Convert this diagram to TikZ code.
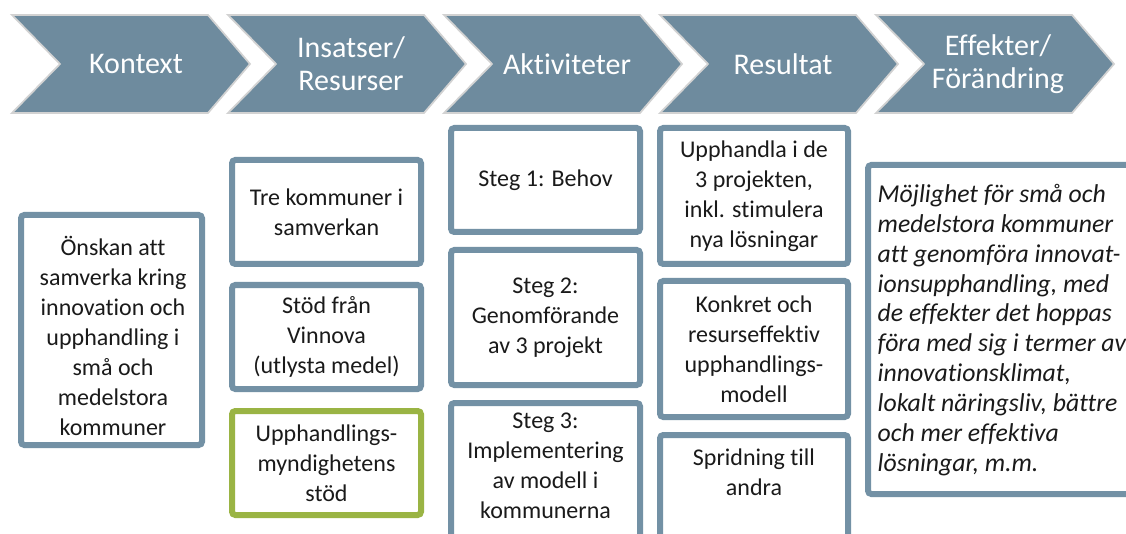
\documentclass[tikz,border=0pt]{standalone}
\usepackage{fontspec}
\setmainfont{Carlito}[Ligatures={NoCommon}]
\usetikzlibrary{fit,shadows}
\definecolor{chevfill}{HTML}{6E8B9E}
\definecolor{chevline}{HTML}{D2D2D2}
\definecolor{boxblue}{HTML}{7391A5}
\definecolor{boxgreen}{HTML}{9AB444}
\definecolor{txt}{HTML}{1A1A1A}
\tikzset{
  chev/.style={fill=chevfill, draw=chevline, line width=1.3pt, line join=miter},
  head/.style={text=white, align=center, font=\fontsize{22.5}{24.5}\selectfont},
  box/.style={draw=boxblue, line width=4.5pt, fill=white, rounded corners=2.5pt, inner sep=0pt,
    drop shadow={shadow xshift=1pt, shadow yshift=-1pt, opacity=0.25}},
  gbox/.style={box, draw=boxgreen},
  lbl/.style={text=txt, align=center, font=\fontsize{18}{22.5}\selectfont},
  ilbl/.style={text=txt, align=left, font=\fontsize{19.3}{22.4}\selectfont\itshape},
}
\begin{document}
\begin{tikzpicture}[x=0.75pt,y=-0.75pt]
\useasboundingbox (0,0) rectangle (1126,534);
\clip (0,0) rectangle (1126,534);
\fill[white] (0,0) rectangle (1126,534);
% chevrons
\foreach \L in {12, 228, 444, 660, 876}{
  \draw[chev] (\L,15) -- ++(196,0) -- ++(42,49) -- ++(-42,49) -- ++(-196,0) -- ++(48,-49) -- cycle;
}
\node[head] (h1) at (136,64) {Kontext};
\node[head] (h2) at (351,64) {Insatser/\\Resurser};
\node[head] (h3) at (567,64) {Aktiviteter};
\node[head] (h4) at (783,64) {Resultat};
\node[head] (h5) at (998,64) {Effekter/\\Förändring};
% column 1
\node[box, fit={(21,215) (202,445)}] (b1) {};
\node[lbl] (t1) at (113,336) {Önskan att\\samverka kring\\innovation och\\upphandling i\\små och\\medelstora\\kommuner};
% column 2
\node[box, fit={(232,160) (421,264)}] (b21) {};
\node[lbl] (t21) at (326.5,212) {Tre kommuner i\\samverkan};
\node[box, fit={(232,285) (421,389)}] (b22) {};
\node[lbl] (t22) at (326.5,337) {Stöd från\\Vinnova\\(utlysta medel)};
\node[gbox, fit={(232,411) (421,515)}] (b23) {};
\node[lbl] (t23) at (326.5,463) {Upphandlings-\\myndighetens\\stöd};
% column 3
\node[box, fit={(451,128) (640,232)}] (b31) {};
\node[lbl] (t31) at (545.5,180) {Steg 1: Behov};
\node[box, fit={(451,250) (640,385)}] (b32) {};
\node[lbl] (t32) at (545.5,318) {Steg 2:\\Genomförande\\av 3 projekt};
\node[box, fit={(451,403) (640,570)}] (b33) {};
\node[lbl] (t33) at (545.5,466) {Steg 3:\\Implementering\\av modell i\\kommunerna};
% column 4
\node[box, fit={(660,128) (848,264)}] (b41) {};
\node[lbl] (t41) at (754,196) {Upphandla i de\\3 projekten,\\inkl. stimulera\\nya lösningar};
\node[box, fit={(660,281) (848,417)}] (b42) {};
\node[lbl] (t42) at (754,349) {Konkret och\\resurseffektiv\\upphandlings-\\modell};
\node[box, fit={(660,435) (848,570)}] (b43) {};
\node[lbl] (t43) at (754,472) {Spridning till\\andra};
% column 5
\node[box, fit={(868,165) (1150,494)}] (b5) {};
\node[ilbl, anchor=west] (t5) at (873,330) {Möjlighet för små och\\medelstora kommuner\\att genomföra innovat-\\ionsupphandling, med\\de effekter det hoppas\\föra med sig i termer av\\innovationsklimat,\\lokalt näringsliv, bättre\\och mer effektiva\\lösningar, m.m.};
\end{tikzpicture}
\end{document}
